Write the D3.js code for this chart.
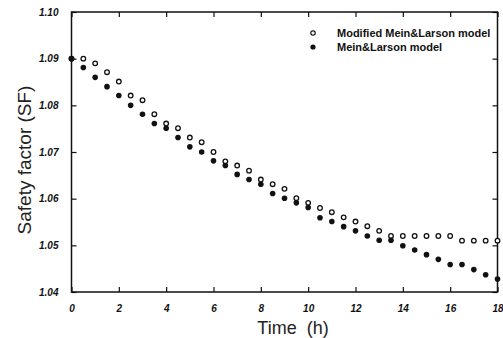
<!DOCTYPE html>
<html>
<head>
<meta charset="utf-8">
<script src="https://cdn.jsdelivr.net/npm/d3@7"></script>
<style>
  body { margin: 0; background: #fff; }
  svg { display: block; }
  .tick text { font-family: "Liberation Sans", Arial, sans-serif; font-weight: bold; font-style: italic; font-size: 10px; }
</style>
</head>
<body>
<div id="chart"></div>
<script>
var svgWidth = 503;
var svgHeight = 338;

var margin = { top: 12, right: 5.5, bottom: 46, left: 71.5 };
var plotWidth = svgWidth - margin.left - margin.right;
var plotHeight = svgHeight - margin.top - margin.bottom;

// time (h)
var timeHours = [0, 0.5, 1, 1.5, 2, 2.5, 3, 3.5, 4, 4.5, 5, 5.5, 6, 6.5, 7, 7.5, 8, 8.5, 9,
  9.5, 10, 10.5, 11, 11.5, 12, 12.5, 13, 13.5, 14, 14.5, 15, 15.5, 16, 16.5, 17, 17.5, 18];

// Modified Mein&Larson model (open circles)
var modifiedSF = [1.0900, 1.0900, 1.0890, 1.0871, 1.0851, 1.0821, 1.0811, 1.0781, 1.0761, 1.0751,
  1.0731, 1.0721, 1.0700, 1.0680, 1.0671, 1.0660, 1.0641, 1.0631, 1.0621, 1.0601,
  1.0591, 1.0580, 1.0571, 1.0560, 1.0551, 1.0541, 1.0531, 1.0520, 1.0520, 1.0520,
  1.0520, 1.0520, 1.0520, 1.0510, 1.0510, 1.0510, 1.0510];

// Mein&Larson model (filled circles)
var meinLarsonSF = [1.0900, 1.0881, 1.0860, 1.0840, 1.0821, 1.0800, 1.0781, 1.0761, 1.0751, 1.0731,
  1.0711, 1.0700, 1.0681, 1.0671, 1.0652, 1.0641, 1.0631, 1.0611, 1.0601, 1.0591,
  1.0581, 1.0559, 1.0551, 1.0540, 1.0531, 1.0520, 1.0511, 1.0511, 1.0499, 1.0490,
  1.0480, 1.0470, 1.0459, 1.0459, 1.0448, 1.0437, 1.0428];

var xTicks = [0, 2, 4, 6, 8, 10, 12, 14, 16, 18];
var yTicks = [1.04, 1.05, 1.06, 1.07, 1.08, 1.09, 1.10];
var legendLabels = ["Modified Mein&Larson model", "Mein&Larson model"];

var svg = d3.select("#chart")
  .append("svg")
  .attr("width", svgWidth)
  .attr("height", svgHeight);

var plot = svg.append("g")
  .attr("transform", `translate(${margin.left}, ${margin.top})`);

var xScale = d3.scaleLinear().domain([0, 18]).range([0, plotWidth]);
var yScale = d3.scaleLinear().domain([1.04, 1.10]).range([plotHeight, 0]);

// axes with inward ticks
plot.append("g")
  .attr("transform", `translate(0, ${plotHeight})`)
  .call(d3.axisBottom(xScale).tickValues(xTicks).tickSizeInner(-5).tickSizeOuter(0)
    .tickPadding(13).tickFormat(d3.format("d")));

plot.append("g")
  .call(d3.axisTop(xScale).tickValues(xTicks).tickSizeInner(-5).tickSizeOuter(0).tickFormat(""));

plot.append("g")
  .call(d3.axisLeft(yScale).tickValues(yTicks).tickSizeInner(-5).tickSizeOuter(0)
    .tickPadding(13).tickFormat(d3.format(".2f")));

plot.append("g")
  .attr("transform", `translate(${plotWidth}, 0)`)
  .call(d3.axisRight(yScale).tickValues(yTicks).tickSizeInner(-5).tickSizeOuter(0).tickFormat(""));

plot.selectAll(".domain").remove();
plot.selectAll(".tick line").attr("stroke", "#111").attr("stroke-width", 1.2);
plot.selectAll(".tick text").attr("fill", "#111");

// frame
plot.append("rect")
  .attr("width", plotWidth)
  .attr("height", plotHeight)
  .attr("fill", "none")
  .attr("stroke", "#111")
  .attr("stroke-width", 1.5);

// points
plot.selectAll("circle.modified")
  .data(timeHours)
  .enter()
  .append("circle")
  .attr("class", "modified")
  .attr("cx", (d, i) => xScale(d))
  .attr("cy", (d, i) => yScale(modifiedSF[i]))
  .attr("r", 2.3)
  .attr("fill", "#fff")
  .attr("stroke", "#111")
  .attr("stroke-width", 1.3);

plot.selectAll("circle.mein")
  .data(timeHours)
  .enter()
  .append("circle")
  .attr("class", "mein")
  .attr("cx", (d, i) => xScale(d))
  .attr("cy", (d, i) => yScale(meinLarsonSF[i]))
  .attr("r", 2.8)
  .attr("fill", "#111");

// legend
var legend = svg.append("g")
  .attr("transform", "translate(313, 33)");

legend.append("circle")
  .attr("r", 2.2)
  .attr("fill", "#fff")
  .attr("stroke", "#111")
  .attr("stroke-width", 1.2);

legend.append("circle")
  .attr("cy", 14)
  .attr("r", 2.6)
  .attr("fill", "#111");

legend.selectAll("text")
  .data(legendLabels)
  .enter()
  .append("text")
  .attr("x", 24)
  .attr("y", (d, i) => i * 14)
  .attr("dy", "0.35em")
  .style("font-family", "Liberation Sans, Arial, sans-serif")
  .style("font-size", "11px")
  .style("font-weight", "bold")
  .attr("fill", "#111")
  .text(d => d);

// axis titles
svg.append("text")
  .attr("transform", "rotate(-90)")
  .attr("x", -160)
  .attr("y", 31)
  .attr("text-anchor", "middle")
  .style("font-family", "Liberation Sans, Arial, sans-serif")
  .style("font-size", "19px")
  .attr("fill", "#222")
  .text("Safety factor (SF)");

svg.append("text")
  .attr("x", 293)
  .attr("y", 334)
  .attr("text-anchor", "middle")
  .style("font-family", "Liberation Sans, Arial, sans-serif")
  .style("font-size", "18px")
  .style("white-space", "pre")
  .attr("fill", "#222")
  .text("Time  (h)");
</script>
</body>
</html>
